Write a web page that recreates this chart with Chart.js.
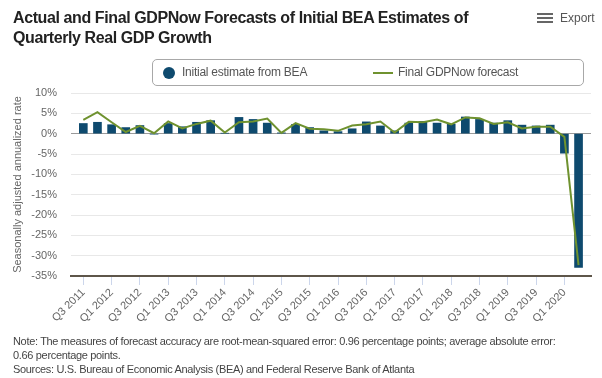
<!DOCTYPE html>
<html>
<head>
<meta charset="utf-8">
<script src="https://cdn.jsdelivr.net/npm/chart.js@4.4.1/dist/chart.umd.min.js"></script>
<style>
  html, body { margin:0; padding:0; background:#fff; }
  body { width:602px; height:378px; position:relative; overflow:hidden; font-family:"Liberation Sans", Arial, sans-serif; }
  #c { position:absolute; left:0; top:0; }
  .title { position:absolute; left:13px; top:8px; font-size:16px; font-weight:bold; color:#222; line-height:20px; letter-spacing:-0.4px; }
  .export { position:absolute; left:537px; top:11px; font-size:12px; color:#555; }
  .export .ham { position:absolute; left:0; top:2px; width:16px; }
  .export .ham div { height:2px; background:#666; margin-bottom:2px; width:16px; }
  .export span { position:absolute; left:23px; top:0; }
  .legend { position:absolute; left:152px; top:59px; width:432px; height:27px; border:1px solid #a8a8a8; border-radius:5px; box-sizing:border-box; }
  .legend .dot { position:absolute; left:10px; top:7px; width:12px; height:12px; border-radius:50%; background:#0e4a6e; }
  .legend .t1 { position:absolute; left:29px; top:5px; font-size:12px; color:#555; letter-spacing:-0.25px; }
  .legend .ln { position:absolute; left:220px; top:12px; width:20px; height:2px; background:#6f922f; }
  .legend .t2 { position:absolute; left:245px; top:5px; font-size:12px; color:#555; letter-spacing:-0.25px; }
  .note { position:absolute; left:13px; top:334px; font-size:11px; color:#444; line-height:14px; letter-spacing:-0.33px; }
</style>
</head>
<body>
<canvas id="c" width="602" height="378"></canvas>
<div class="title">Actual and Final GDPNow Forecasts of Initial BEA Estimates of<br>Quarterly Real GDP Growth</div>
<div class="export"><div class="ham"><div></div><div></div><div></div></div><span>Export</span></div>
<div class="legend">
  <div class="dot"></div><div class="t1">Initial estimate from BEA</div>
  <div class="ln"></div><div class="t2">Final GDPNow forecast</div>
</div>
<div class="note">Note: The measures of forecast accuracy are root-mean-squared error: 0.96 percentage points; average absolute error:<br>0.66 percentage points.<br>Sources: U.S. Bureau of Economic Analysis (BEA) and Federal Reserve Bank of Atlanta</div>
<script>
const categories = [
  "Q3 2011","Q4 2011","Q1 2012","Q2 2012","Q3 2012","Q4 2012",
  "Q1 2013","Q2 2013","Q3 2013","Q4 2013","Q1 2014","Q2 2014",
  "Q3 2014","Q4 2014","Q1 2015","Q2 2015","Q3 2015","Q4 2015",
  "Q1 2016","Q2 2016","Q3 2016","Q4 2016","Q1 2017","Q2 2017",
  "Q3 2017","Q4 2017","Q1 2018","Q2 2018","Q3 2018","Q4 2018",
  "Q1 2019","Q2 2019","Q3 2019","Q4 2019","Q1 2020","Q2 2020"
];
const initialBEA = [
  2.5, 2.8, 2.2, 1.5, 2.0, -0.1,
  2.5, 1.7, 2.8, 3.2, 0.1, 4.0,
  3.5, 2.6, 0.2, 2.3, 1.5, 0.7,
  0.5, 1.2, 2.9, 1.9, 0.7, 2.6,
  3.0, 2.6, 2.3, 4.1, 3.5, 2.6,
  3.2, 2.1, 1.9, 2.1, -4.8, -32.9
];
const finalGDPNow = [
  3.4, 5.3, 2.8, 0.4, 1.9, 0.1,
  3.0, 1.3, 2.4, 3.2, 0.3, 2.8,
  3.0, 3.7, 0.2, 2.6, 1.2, 1.1,
  0.7, 2.0, 2.3, 3.0, 0.3, 2.9,
  2.8, 3.5, 2.3, 4.0, 3.8, 2.4,
  2.8, 1.3, 1.7, 1.7, -0.8, -32.3
];
const yTicks = [10, 5, 0, -5, -10, -15, -20, -25, -30, -35];
const labelEvery = 2;

const barData = initialBEA.map((v, i) => ({ x: i, y: v }));
const lineData = finalGDPNow.map((v, i) => ({ x: i, y: v }));

new Chart(document.getElementById('c'), {
  type: 'bar',
  data: {
    datasets: [
      { type: 'line', label: 'Final GDPNow forecast', data: lineData, borderColor: '#6f922f', borderWidth: 2, pointRadius: 0, tension: 0, order: 0 },
      { type: 'bar', label: 'Initial estimate from BEA', data: barData, backgroundColor: '#0e4a6e', borderWidth: 0, barThickness: 8, order: 1 }
    ]
  },
  options: {
    responsive: false,
    animation: false,
    events: [],
    layout: { padding: { top: 93, right: 11, bottom: 52, left: 0 } },
    plugins: { legend: { display: false }, tooltip: { enabled: false } },
    scales: {
      x: {
        type: 'linear',
        offset: false,
        min: -0.87, max: 35.88,
        afterFit: s => { s.height = 50; },
        afterBuildTicks: s => {
          const t = [];
          for (let i = 0; i < categories.length; i += labelEvery) if (i <= 34) t.push({ value: i });
          s.ticks = t;
        },
        ticks: {
          autoSkip: false, maxRotation: 45, minRotation: 45,
          color: '#666', font: { family: 'Liberation Sans', size: 11 }, padding: 1,
          callback: v => categories[v]
        },
        grid: { offset: false, drawOnChartArea: false, drawTicks: true, tickLength: 9, color: '#ccd6eb' },
        border: { display: true, color: '#5e564a', width: 2 }
      },
      y: {
        min: -35, max: 10,
        afterFit: s => { s.width = 71; },
        afterBuildTicks: s => { s.ticks = yTicks.map(v => ({ value: v })); },
        ticks: { color: '#666', font: { family: 'Liberation Sans', size: 11 }, padding: 14, callback: v => v + '%' },
        grid: { drawTicks: false, color: ctx => (ctx.tick && ctx.tick.value === 0) ? '#9a9a9a' : '#e8e8e8', lineWidth: 1 },
        border: { display: false },
        title: { display: true, text: 'Seasonally adjusted annualized rate', color: '#666', font: { family: 'Liberation Sans', size: 11 }, padding: { top: 11, bottom: 0 } }
      }
    }
  }
});
</script>
</body>
</html>
